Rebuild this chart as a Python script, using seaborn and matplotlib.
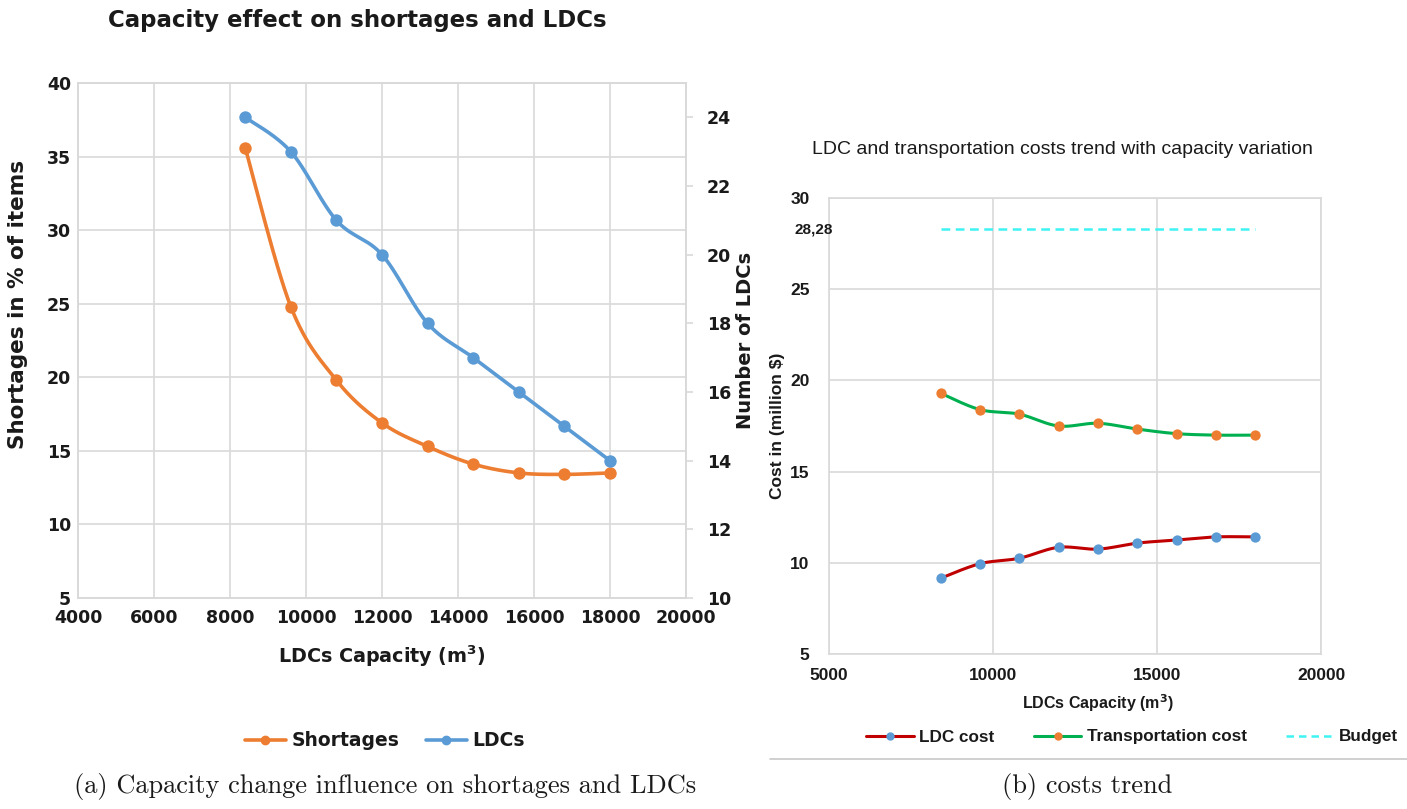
import numpy as np
import pandas as pd
import matplotlib
matplotlib.use("Agg")
import matplotlib.pyplot as plt
from matplotlib.lines import Line2D
from matplotlib.transforms import blended_transform_factory
import seaborn as sns

# ---------------- data ----------------
capacity = [8400, 9600, 10800, 12000, 13200, 14400, 15600, 16800, 18000]
shortages = [35.6, 24.8, 19.8, 16.9, 15.3, 14.1, 13.5, 13.4, 13.5]
ldcs = [24, 23, 21, 20, 18, 17, 16, 15, 14]
ldc_cost = [9.15, 9.95, 10.25, 10.85, 10.75, 11.08, 11.25, 11.42, 11.42]
transport_cost = [19.3, 18.4, 18.15, 17.5, 17.65, 17.33, 17.08, 17.0, 17.0]
budget = 28.28

left_xticks = [4000, 6000, 8000, 10000, 12000, 14000, 16000, 18000, 20000]
left_yticks = [5, 10, 15, 20, 25, 30, 35, 40]
right_yticks_ldc = [10, 12, 14, 16, 18, 20, 22, 24]
cost_xticks = [5000, 10000, 15000, 20000]
cost_yticks = [5, 10, 15, 20, 25, 30]

# colours
C_ORANGE = "#ED7D31"
C_BLUE = "#5B9BD5"
C_RED = "#C00000"
C_GREEN = "#00B050"
C_CYAN = "#3FF3F3"
C_GRID = "#D9D9D9"
C_TEXT = "#1a1a1a"

sns.set_theme(style="white")
plt.rcParams["font.family"] = ["Liberation Sans", "DejaVu Sans"]
plt.rcParams["text.color"] = C_TEXT
plt.rcParams["axes.labelcolor"] = C_TEXT
plt.rcParams["xtick.color"] = C_TEXT
plt.rcParams["ytick.color"] = C_TEXT

WIDE = ["DejaVu Sans"]


def smooth(x, y, n=30):
    """Uniform Catmull-Rom path through the data points (Excel-like smoothing)."""
    pts = np.column_stack([x, y]).astype(float)
    out = []
    m = len(pts)
    for i in range(m - 1):
        p0 = pts[i - 1] if i > 0 else pts[i]
        p1 = pts[i]
        p2 = pts[i + 1]
        p3 = pts[i + 2] if i + 2 < m else pts[i + 1]
        t = np.linspace(0, 1, n, endpoint=(i == m - 2))[:, None]
        seg = 0.5 * ((2 * p1) + (-p0 + p2) * t + (2 * p0 - 5 * p1 + 4 * p2 - p3) * t ** 2
                     + (-p0 + 3 * p1 - 3 * p2 + p3) * t ** 3)
        out.append(seg)
    arr = np.vstack(out)
    return pd.DataFrame({"x": arr[:, 0], "y": arr[:, 1]})


W, H = 1407, 809
fig = plt.figure(figsize=(W / 100, H / 100), dpi=100)


def fx(px):
    return px / W


def fy(py):
    return 1 - py / H


# ================= LEFT PANEL =================
axL = fig.add_axes([fx(78), fy(598), fx(686) - fx(78), fy(83) - fy(598)])
axR = axL.twinx()

axL.set_xlim(4000, 20000)
axL.set_ylim(5, 40)
axR.set_ylim(10, 25)

for a in (axL, axR):
    for s in a.spines.values():
        s.set_color(C_GRID)
        s.set_linewidth(1.2)

axL.set_xticks(left_xticks)
axL.set_yticks(left_yticks)
axR.set_yticks(right_yticks_ldc)
axL.grid(True, color=C_GRID, linewidth=1.2)
axL.set_axisbelow(True)

d = smooth(capacity, shortages)
sns.lineplot(data=d, x="x", y="y", ax=axL, sort=False, estimator=None,
             color=C_ORANGE, linewidth=2.6)
sns.scatterplot(x=capacity, y=shortages, ax=axL, color=C_ORANGE, s=80,
                edgecolor=C_ORANGE, linewidth=0, zorder=5)

d = smooth(capacity, ldcs)
sns.lineplot(data=d, x="x", y="y", ax=axR, sort=False, estimator=None,
             color=C_BLUE, linewidth=2.6)
sns.scatterplot(x=capacity, y=ldcs, ax=axR, color=C_BLUE, s=80,
                edgecolor=C_BLUE, linewidth=0, zorder=5)

axL.tick_params(axis="both", length=0, labelsize=12.5, pad=5)
axL.tick_params(axis="x", pad=8)
axR.tick_params(axis="y", length=5, color=C_GRID, width=1.2, labelsize=12.5, pad=10)
for lab in axL.get_xticklabels() + axL.get_yticklabels() + axR.get_yticklabels():
    lab.set_fontweight("bold")
    lab.set_fontfamily(WIDE)

axL.set_xlabel("LDCs Capacity (m$^\\mathbf{3}$)", fontsize=13.8, fontweight="bold",
               labelpad=12, family=WIDE)
axL.set_ylabel("Shortages in % of items", fontsize=15.5, fontweight="bold", family=WIDE)
axL.yaxis.set_label_coords(-0.083, 0.57)
axR.set_ylabel("Number of LDCs", fontsize=14, fontweight="bold", family=WIDE)
axR.yaxis.set_label_coords(1.083, 0.5)

fig.text(fx(357), fy(20), "Capacity effect on shortages and LDCs", ha="center", va="center",
         fontsize=16.5, fontweight="bold", family=WIDE)

hL = [Line2D([], [], color=C_ORANGE, lw=2.6, marker="o", markersize=6),
      Line2D([], [], color=C_BLUE, lw=2.6, marker="o", markersize=6)]
fig.legend(hL, ["Shortages", "LDCs"], loc="center", bbox_to_anchor=(fx(385), fy(741)),
           ncol=2, frameon=False, prop={"weight": "bold", "size": 13.5, "family": WIDE},
           handlelength=2.2, handletextpad=0.3, columnspacing=1.4)

fig.text(fx(385), fy(787), "(a) Capacity change influence on shortages and LDCs",
         ha="center", va="center", fontsize=19, family="cmr10")

# ================= RIGHT PANEL =================
axC = fig.add_axes([fx(829), fy(654), fx(1321) - fx(829), fy(198) - fy(654)])
axC.set_xlim(5000, 20000)
axC.set_ylim(5, 30)
axC.set_xticks(cost_xticks)
axC.set_yticks(cost_yticks)
axC.grid(True, color=C_GRID, linewidth=1.2)
axC.set_axisbelow(True)
for s in axC.spines.values():
    s.set_color(C_GRID)
    s.set_linewidth(1.2)

d = smooth(capacity, transport_cost)
sns.lineplot(data=d, x="x", y="y", ax=axC, sort=False, estimator=None,
             color=C_GREEN, linewidth=2.2)
sns.scatterplot(x=capacity, y=transport_cost, ax=axC, color=C_ORANGE, s=55,
                edgecolor=C_ORANGE, linewidth=0, zorder=5)

d = smooth(capacity, ldc_cost)
sns.lineplot(data=d, x="x", y="y", ax=axC, sort=False, estimator=None,
             color=C_RED, linewidth=2.2)
sns.scatterplot(x=capacity, y=ldc_cost, ax=axC, color=C_BLUE, s=55,
                edgecolor=C_BLUE, linewidth=0, zorder=5)

sns.lineplot(x=[capacity[0], capacity[-1]], y=[budget, budget], ax=axC, color=C_CYAN,
             linewidth=1.8, linestyle=(0, (3.5, 2.2)))

axC.tick_params(axis="both", length=0, labelsize=12.5)
axC.tick_params(axis="y", pad=14)
axC.tick_params(axis="x", pad=10)
for lab in axC.get_xticklabels() + axC.get_yticklabels():
    lab.set_fontweight("bold")

trans = blended_transform_factory(fig.transFigure, axC.transData)
fig.text(fx(833), budget, f"{budget:.2f}".replace(".", ","), transform=trans,
         ha="right", va="center", fontsize=11, fontweight="bold")

axC.set_xlabel("LDCs Capacity (m$^\\mathbf{3}$)", fontsize=11.5, fontweight="bold", labelpad=8)
axC.xaxis.set_label_coords(0.547, -0.085)
axC.set_ylabel("Cost in (million $)", fontsize=12.5, fontweight="bold")
axC.yaxis.set_label_coords(-0.09, 0.5)

fig.text(fx(1062), fy(150), "LDC and transportation costs trend with capacity variation",
         ha="center", va="center", fontsize=14)

hC = [Line2D([], [], color=C_RED, lw=2.2, marker="o", markersize=5,
             markerfacecolor=C_BLUE, markeredgecolor=C_BLUE),
      Line2D([], [], color=C_GREEN, lw=2.2, marker="o", markersize=5,
             markerfacecolor=C_ORANGE, markeredgecolor=C_ORANGE),
      Line2D([], [], color=C_CYAN, lw=1.8, linestyle=(0, (3.0, 2.0)))]
fig.legend(hC, ["LDC cost", "Transportation cost", "Budget"], loc="center",
           bbox_to_anchor=(fx(1132), fy(737)), ncol=3, frameon=False,
           prop={"weight": "bold", "size": 12.3}, handlelength=2.8, handletextpad=0.3,
           columnspacing=2.3)

fig.add_artist(Line2D([fx(770), fx(1407)], [fy(759), fy(759)], color="#c8c8c8", lw=1.2))

fig.text(fx(1087), fy(787), "(b) costs trend", ha="center", va="center",
         fontsize=19, family="cmr10")

fig.savefig("out.png", dpi=100, facecolor="white")
